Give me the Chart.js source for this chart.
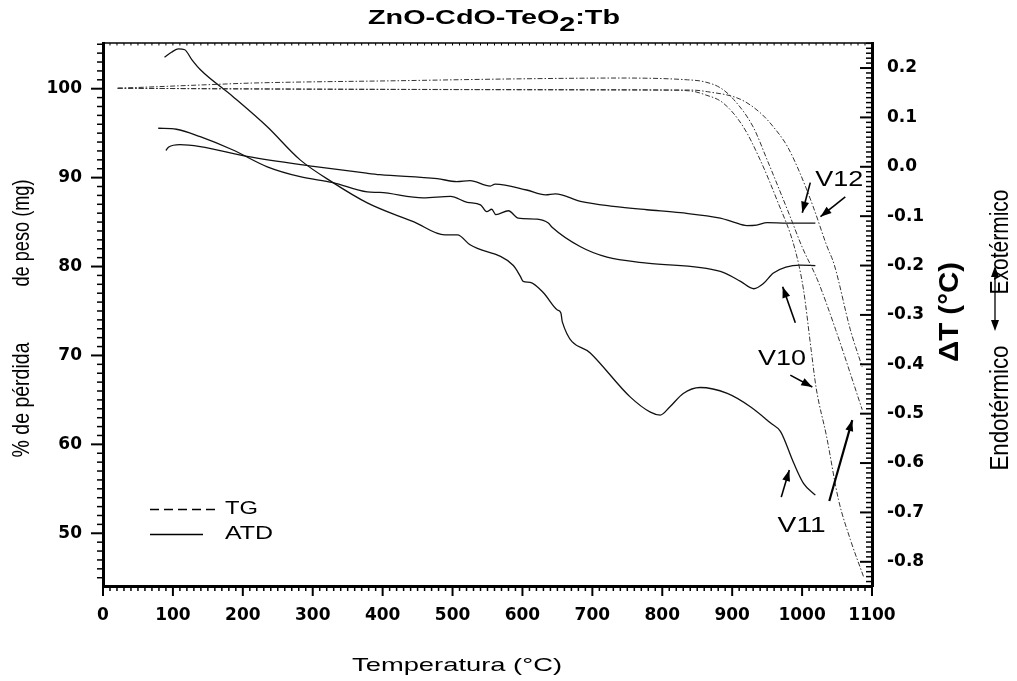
<!DOCTYPE html>
<html>
<head>
<meta charset="utf-8">
<title>ZnO-CdO-TeO2:Tb</title>
<script src="https://cdn.jsdelivr.net/npm/chart.js@4.4.1/dist/chart.umd.min.js"></script>
<style>
  html, body { margin: 0; padding: 0; background: #fff; }
  canvas { display: block; }
</style>
</head>
<body>
<canvas id="tgChart" width="1017" height="681"></canvas>
<script>
// TG curves, % of weight (left axis)
const tgV10Temp = [21, 150, 300, 450, 600, 750, 800, 840, 862, 887, 916, 940, 964, 990, 1002, 1013, 1020, 1035, 1052, 1069, 1088];
const tgV10Mass = [100.05, 100.0, 99.95, 99.92, 99.9, 99.88, 99.85, 99.75, 99.3, 98.4, 95.7, 92.0, 87.5, 81.9, 77.4, 70.6, 66.4, 60.9, 53.8, 49.3, 45.1];

const tgV11Temp = [21, 150, 215, 425, 587, 740, 836, 859, 883, 902, 930, 950, 983, 1000, 1022, 1048, 1086];
const tgV11Mass = [100.05, 100.45, 100.64, 100.9, 101.1, 101.2, 101.0, 100.8, 100.1, 98.8, 95.7, 92.0, 85.6, 82.2, 78.5, 72.9, 63.9];

const tgV12Temp = [21, 200, 400, 600, 800, 840, 865, 912, 940, 959, 979, 997, 1016, 1035, 1046, 1069, 1086];
const tgV12Mass = [100.05, 99.98, 99.92, 99.88, 99.85, 99.85, 99.66, 98.8, 97.3, 95.7, 93.5, 90.5, 86.7, 82.4, 80.2, 72.9, 68.7];

// ATD curves, delta T in °C (right axis)
const atdV11Temp = [88, 98, 108, 117, 127, 139, 186, 235, 282, 329, 378, 425, 444, 489, 507, 525, 587, 597, 601, 611, 630, 650, 655, 657, 697, 754, 783, 797, 811, 830, 854, 893, 926, 955, 969, 988, 1002, 1019];
const atdV11Delta = [0.222, 0.232, 0.239, 0.237, 0.217, 0.197, 0.142, 0.081, 0.014, -0.032, -0.073, -0.101, -0.111, -0.138, -0.138, -0.158, -0.200, -0.222, -0.232, -0.234, -0.255, -0.290, -0.296, -0.314, -0.377, -0.466, -0.497, -0.503, -0.486, -0.459, -0.447, -0.459, -0.486, -0.519, -0.536, -0.600, -0.641, -0.665];

const atdV10Temp = [79, 105, 139, 186, 235, 282, 329, 378, 396, 458, 497, 521, 540, 549, 556, 562, 580, 594, 621, 637, 642, 683, 721, 778, 883, 912, 931, 945, 959, 997, 1019];
const atdV10Delta = [0.078, 0.076, 0.061, 0.034, 0.000, -0.020, -0.032, -0.051, -0.052, -0.063, -0.060, -0.072, -0.077, -0.091, -0.086, -0.097, -0.089, -0.104, -0.106, -0.114, -0.122, -0.162, -0.183, -0.195, -0.212, -0.232, -0.247, -0.236, -0.215, -0.199, -0.200];

const atdV12Temp = [90, 94, 110, 139, 206, 301, 377, 396, 478, 506, 525, 554, 561, 606, 633, 647, 683, 730, 778, 826, 883, 902, 921, 935, 950, 978, 1019];
const atdV12Delta = [0.033, 0.040, 0.045, 0.041, 0.021, 0.001, -0.013, -0.016, -0.024, -0.030, -0.028, -0.039, -0.035, -0.047, -0.057, -0.055, -0.070, -0.080, -0.087, -0.093, -0.104, -0.112, -0.119, -0.118, -0.113, -0.114, -0.114];

// axis ranges
const tempRange = [0, 1100];
const massRange = [44.07, 105.14];
const deltaRange = [-0.849, 0.2507];

// sample labels and arrows, in (temperature, delta T)
const sampleNames = ["V12", "V10", "V11"];
const sampleTemp = [1019, 937, 965];
const sampleDelta = [-0.0385, -0.401, -0.740];
const arrowFrom = [[1011.7, -0.032], [1061.8, -0.061], [990.3, -0.316], [983.1, -0.422], [970.2, -0.669], [1038.9, -0.677]];
const arrowTo = [[1000.3, -0.093], [1026.3, -0.101], [972.2, -0.243], [1014.6, -0.446], [981.7, -0.614], [1071.8, -0.513]];

const SANS = '"Liberation Sans", Arial, sans-serif';

function points(xs, ys) {
  return xs.map((x, i) => ({ x: x, y: ys[i] }));
}

function tgSet(label, xs, ys) {
  return {
    label: label, data: points(xs, ys), yAxisID: "y",
    borderColor: "#333", borderWidth: 1, borderDash: [5, 2, 1.5, 2],
    pointRadius: 0, cubicInterpolationMode: "monotone", fill: false,
  };
}

function atdSet(label, xs, ys) {
  return {
    label: label, data: points(xs, ys), yAxisID: "y1",
    borderColor: "#111", borderWidth: 1.3,
    pointRadius: 0, cubicInterpolationMode: "monotone", fill: false,
  };
}

// text with its length along the reading direction forced to `width`
function txt(ctx, s, x, y, o) {
  ctx.save();
  ctx.font = o.font;
  ctx.textAlign = "left";
  ctx.textBaseline = o.baseline || "alphabetic";
  const w = ctx.measureText(s).width;
  const sx = o.width ? o.width / w : 1;
  ctx.translate(x, y);
  if (o.rot) ctx.rotate(o.rot);
  ctx.scale(sx, o.sy || 1);
  const ax = o.align === "center" ? -w / 2 : o.align === "right" ? -w : 0;
  ctx.fillText(s, ax, 0);
  ctx.restore();
}

function seg(ctx, x1, y1, x2, y2, lw) {
  ctx.lineWidth = lw;
  ctx.beginPath();
  ctx.moveTo(x1, y1);
  ctx.lineTo(x2, y2);
  ctx.stroke();
}

function arrowHead(ctx, x1, y1, x2, y2) {
  const ang = Math.atan2(y2 - y1, x2 - x1);
  const len = 11, half = 4;
  ctx.beginPath();
  ctx.moveTo(x2, y2);
  ctx.lineTo(x2 - len * Math.cos(ang) + half * Math.sin(ang), y2 - len * Math.sin(ang) - half * Math.cos(ang));
  ctx.lineTo(x2 - len * Math.cos(ang) - half * Math.sin(ang), y2 - len * Math.sin(ang) + half * Math.cos(ang));
  ctx.closePath();
  ctx.fill();
}

const framePlugin = {
  id: "frame",
  afterDraw(chart) {
    const { ctx, chartArea: a, scales } = chart;
    const x = scales.x, y = scales.y, y1 = scales.y1;
    ctx.save();
    ctx.strokeStyle = "#000";
    ctx.fillStyle = "#000";

    // top edge
    seg(ctx, a.left, a.top, a.right, a.top, 1.5);

    // temperature ticks (bottom outward, small ones on top)
    for (let v = tempRange[0]; v <= tempRange[1]; v += 10) {
      const px = x.getPixelForValue(v);
      const major = v % 100 === 0;
      seg(ctx, px, a.bottom, px, a.bottom + (major ? 10 : 5), major ? 2 : 1.5);
      seg(ctx, px, a.top, px, a.top + 2.5, 1);
    }
    // mass ticks (left, outward)
    for (let v = Math.ceil(massRange[0]); v <= massRange[1]; v++) {
      const py = y.getPixelForValue(v);
      const major = v % 10 === 0;
      seg(ctx, a.left, py, a.left - (major ? 12 : 6), py, major ? 2 : 1.5);
    }
    // delta T ticks (right, inward)
    for (let i = Math.ceil(deltaRange[0] * 100); i <= deltaRange[1] * 100; i++) {
      const py = y1.getPixelForValue(i / 100);
      const major = i % 10 === 0;
      seg(ctx, a.right, py, a.right - (major ? 12 : 6), py, major ? 2 : 1.5);
    }

    // chart title with subscript
    ctx.font = "bold 20px " + SANS;
    const parts = ["ZnO-CdO-TeO", "2", ":Tb"];
    const widths = parts.map((p) => ctx.measureText(p).width);
    const sx = 252 / widths.reduce((s, w) => s + w, 0);
    let tx = 368;
    parts.forEach((p, i) => {
      ctx.save();
      ctx.translate(tx, i === 1 ? 31 : 24);
      ctx.scale(sx, 1);
      ctx.textBaseline = "alphabetic";
      ctx.fillText(p, 0, 0);
      ctx.restore();
      tx += widths[i] * sx;
    });

    // axis titles
    txt(ctx, "Temperatura (°C)", 352, 671, { font: "19px " + SANS, width: 210 });
    txt(ctx, "de peso (mg)", 23, 233, { font: "18px " + SANS, rot: -Math.PI / 2, align: "center", baseline: "middle", width: 107, sy: 1.3 });
    txt(ctx, "% de pérdida", 23, 400, { font: "18px " + SANS, rot: -Math.PI / 2, align: "center", baseline: "middle", width: 115, sy: 1.3 });
    txt(ctx, "ΔT (°C)", 950, 312, { font: "bold 28px " + SANS, rot: -Math.PI / 2, align: "center", baseline: "middle", width: 100 });
    txt(ctx, "Exotérmico", 1001, 242, { font: "21px " + SANS, rot: -Math.PI / 2, align: "center", baseline: "middle", width: 105, sy: 1.2 });
    txt(ctx, "Endotérmico", 1001, 408, { font: "21px " + SANS, rot: -Math.PI / 2, align: "center", baseline: "middle", width: 125, sy: 1.2 });
    seg(ctx, 995, 268, 995, 328, 1.3);
    arrowHead(ctx, 995, 300, 995, 266);
    arrowHead(ctx, 995, 300, 995, 331);

    // legend
    ctx.save();
    ctx.setLineDash([9, 5]);
    seg(ctx, 150, 509.5, 216, 509.5, 1.3);
    ctx.restore();
    seg(ctx, 150, 534.5, 203, 534.5, 1.3);
    txt(ctx, "TG", 225, 509, { font: "18px " + SANS, baseline: "middle", width: 33 });
    txt(ctx, "ATD", 225, 534, { font: "18px " + SANS, baseline: "middle", width: 48 });

    // sample labels and arrows
    sampleNames.forEach((n, i) => {
      txt(ctx, n, x.getPixelForValue(sampleTemp[i]), y1.getPixelForValue(sampleDelta[i]), { font: "22px " + SANS, width: 48 });
    });
    arrowFrom.forEach((f, i) => {
      const x1p = x.getPixelForValue(f[0]), y1p = y1.getPixelForValue(f[1]);
      const x2p = x.getPixelForValue(arrowTo[i][0]), y2p = y1.getPixelForValue(arrowTo[i][1]);
      seg(ctx, x1p, y1p, x2p, y2p, i === 5 ? 2.2 : 1.6);
      arrowHead(ctx, x1p, y1p, x2p, y2p);
    });
    ctx.restore();
  },
};

const tickFont = { family: "DejaVu Sans", weight: "bold", size: 17 };

document.addEventListener("DOMContentLoaded", () => {
  const ctx = document.getElementById("tgChart").getContext("2d");
  new Chart(ctx, {
    type: "line",
    data: {
      datasets: [
        tgSet("TG V10", tgV10Temp, tgV10Mass),
        tgSet("TG V11", tgV11Temp, tgV11Mass),
        tgSet("TG V12", tgV12Temp, tgV12Mass),
        atdSet("ATD V10", atdV10Temp, atdV10Delta),
        atdSet("ATD V11", atdV11Temp, atdV11Delta),
        atdSet("ATD V12", atdV12Temp, atdV12Delta),
      ],
    },
    options: {
      responsive: false,
      animation: false,
      devicePixelRatio: 1,
      layout: { padding: { top: 43, left: 0, right: 0, bottom: 0 } },
      plugins: { legend: { display: false }, tooltip: { enabled: false } },
      scales: {
        x: {
          type: "linear", position: "bottom",
          min: tempRange[0], max: tempRange[1],
          grid: { display: false, drawTicks: false },
          border: { display: true, width: 3, color: "#000" },
          ticks: {
            stepSize: 100, font: tickFont, color: "#000", padding: 19, maxRotation: 0, autoSkip: false,
            callback: (v) => String(v),
          },
          afterFit: (scale) => { scale.height = 95; },
        },
        y: {
          type: "linear", position: "left",
          min: massRange[0], max: massRange[1],
          grid: { display: false, drawTicks: false },
          border: { display: true, width: 3, color: "#000" },
          ticks: {
            stepSize: 10, includeBounds: false, font: tickFont, color: "#000", padding: 21, autoSkip: false, maxTicksLimit: 30,
            callback: (v) => String(v),
          },
          afterFit: (scale) => { scale.width = 103; },
        },
        y1: {
          type: "linear", position: "right",
          min: deltaRange[0], max: deltaRange[1],
          grid: { display: false, drawTicks: false },
          border: { display: true, width: 3, color: "#000" },
          ticks: {
            stepSize: 0.1, includeBounds: false, font: tickFont, color: "#000", padding: 15, autoSkip: false, maxTicksLimit: 30,
            callback: (v) => (Math.abs(v) < 1e-9 ? "0.0" : v.toFixed(1)),
          },
          afterFit: (scale) => { scale.width = 145; },
        },
      },
    },
    plugins: [framePlugin],
  });
});
</script>
</body>
</html>
